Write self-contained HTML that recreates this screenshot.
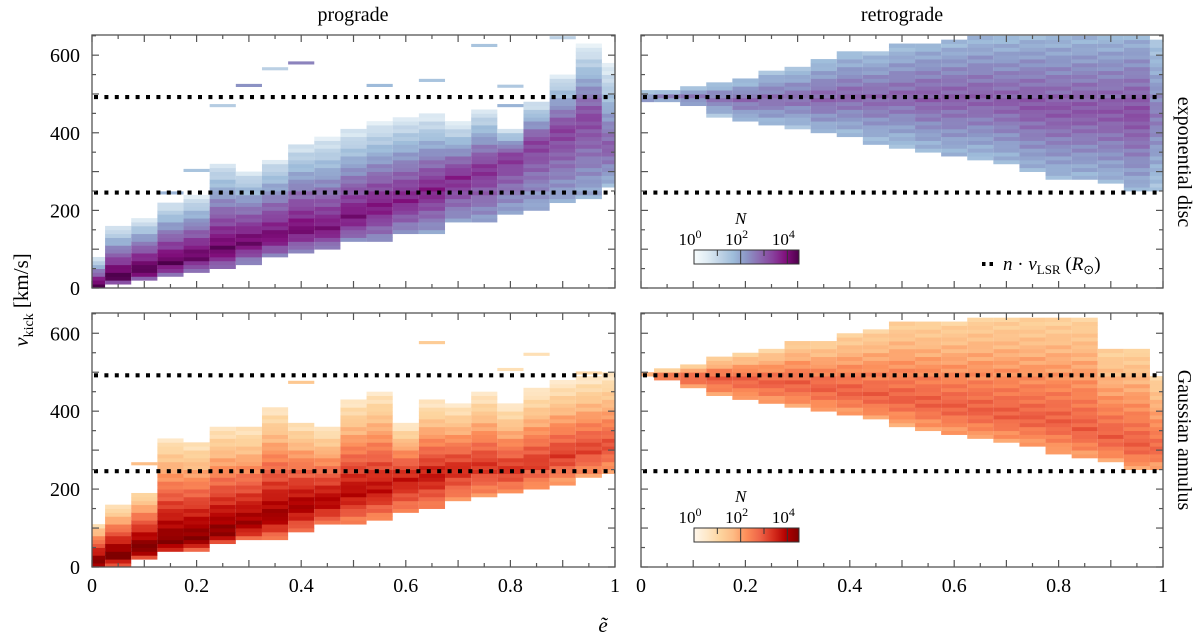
<!DOCTYPE html>
<html><head><meta charset="utf-8"><style>
html,body{margin:0;padding:0;background:#fff;}
svg{display:block;font-family:"Liberation Serif",serif;}
</style></head><body>
<svg id="fig" width="1200" height="642" viewBox="0 0 1200 642" xmlns="http://www.w3.org/2000/svg">
<defs>
<linearGradient id="gBuPu" x1="0" x2="1" y1="0" y2="0">
<stop offset="0" stop-color="#f7fcfd"/><stop offset="0.125" stop-color="#e0ecf4"/><stop offset="0.25" stop-color="#bfd3e6"/><stop offset="0.375" stop-color="#9ebcda"/><stop offset="0.5" stop-color="#8c96c6"/><stop offset="0.625" stop-color="#8c6bb1"/><stop offset="0.75" stop-color="#88419d"/><stop offset="0.875" stop-color="#810f7c"/><stop offset="1" stop-color="#4d004b"/>
</linearGradient>
<linearGradient id="gOrRd" x1="0" x2="1" y1="0" y2="0">
<stop offset="0" stop-color="#fff7ec"/><stop offset="0.125" stop-color="#fee8c8"/><stop offset="0.25" stop-color="#fdd49e"/><stop offset="0.375" stop-color="#fdbb84"/><stop offset="0.5" stop-color="#fc8d59"/><stop offset="0.625" stop-color="#ef6548"/><stop offset="0.75" stop-color="#d7301f"/><stop offset="0.875" stop-color="#b30000"/><stop offset="1" stop-color="#7f0000"/>
</linearGradient>
</defs>
<g id="cells"></g>
<g id="axes"></g>
<text x="353" y="21" font-size="20" text-anchor="middle">prograde</text>
<text x="902" y="21" font-size="20" text-anchor="middle">retrograde</text>
<text transform="translate(1178,162) rotate(90)" font-size="20" text-anchor="middle">exponential disc</text>
<text transform="translate(1178,440) rotate(90)" font-size="20" text-anchor="middle">Gaussian annulus</text>
<text transform="translate(28,300) rotate(-90)" font-size="21" text-anchor="middle"><tspan font-style="italic">v</tspan><tspan font-size="14" dy="5">kick</tspan><tspan dy="-5"> [km/s]</tspan></text>
<text x="603" y="632" font-size="21" font-style="italic" text-anchor="middle">ẽ</text>
<g>
<line x1="982" y1="264" x2="994" y2="264" stroke="#000" stroke-width="4" stroke-dasharray="3.5 4"/>
<text x="1003" y="270" font-size="19"><tspan font-style="italic">n</tspan> · <tspan font-style="italic">v</tspan><tspan font-size="13" dy="4">LSR</tspan><tspan dy="-4"> (</tspan><tspan font-style="italic">R</tspan><tspan font-size="13" dy="4">⊙</tspan><tspan dy="-4">)</tspan></text>
</g>
</svg>
<script>
// ---- data ----
const eCenters = [0,0.05,0.1,0.15,0.2,0.25,0.3,0.35,0.4,0.45,0.5,0.55,0.6,0.65,0.7,0.75,0.8,0.85,0.9,0.95,1];
// exponential disc, prograde
const tlLow  = [0,8,16,29,39,46,64,77,90,98,116,116,136,144,167,167,188,200,218,226,260];
const tlHigh = [75,155,175,218,235,324,303,334,373,386,407,425,440,445,425,463,414,484,553,625,579];
const tlPeak = [5,28,46,64,80,98,116,131,149,149,183,208,226,252,285,303,337,373,407,440,363];
const tlMax  = [4.6,4.6,4.5,4.4,4.3,4.3,4.2,4.1,4.1,4.0,4.0,3.9,3.8,3.8,3.7,3.6,3.5,3.4,3.4,3.3,3.0];
const tlSparse = [[0.15,245,1.8],[0.2,303,1.5],[0.25,470,1.3],[0.3,522,2.3],[0.35,565,1.2],[0.4,580,2.5],[0.55,522,1.7],[0.65,535,1.5],[0.75,625,1.5],[0.8,470,1.8],[0.8,520,1.4],[0.9,645,1.2]];
// exponential disc, retrograde
const trLow  = [480,480,467,445,428,417,415,396,390,374,365,351,336,334,317,297,282,278,268,248,248];
const trHigh = [505,510,517,527,537,557,565,585,606,606,625,634,638,651,651,651,651,651,651,651,638];
const trPeak = [490,492,492,488,485,488,490,490,495,490,495,490,490,490,480,470,460,460,455,450,440];
const trMax  = [2.6,2.6,2.7,2.7,2.8,2.8,2.8,2.9,2.9,2.9,2.9,3.0,3.0,3.0,3.0,3.1,3.1,3.1,3.1,3.2,2.6];
// gaussian annulus, prograde
const blLow  = [0,5,18,37,45,57,67,75,88,106,115,125,136,147,166,177,186,198,215,226,237];
const blHigh = [112,155,194,327,318,357,357,406,374,357,425,447,365,425,417,447,417,456,477,490,498];
const blPeak = [8,27,48,61,69,87,112,130,155,168,190,198,224,232,250,258,250,267,284,301,310];
const blMax  = [4.7,4.7,4.6,4.5,4.5,4.4,4.2,4.2,4.1,4.0,3.9,3.8,3.7,3.7,3.5,3.4,3.4,3.3,3.3,3.2,3.1];
const blSparse = [[0.1,265,1.6],[0.4,474,1.4],[0.65,576,1.3],[0.8,507,0.8],[0.85,546,0.8],[0.95,498,1.0]];
// gaussian annulus, retrograde
const brLow  = [486,477,460,438,430,417,408,396,387,376,365,348,337,327,316,307,288,278,267,250,250];
const brHigh = [498,507,517,537,547,556,578,578,597,607,627,627,627,638,638,638,638,638,556,556,486];
const brPeak = [492,490,488,485,480,475,470,460,450,440,430,420,410,400,390,380,370,350,330,310,300];
const brMax  = [2.8,2.8,2.9,2.9,2.9,2.9,2.9,2.9,2.9,2.9,2.9,2.9,2.9,2.9,2.9,2.9,2.9,2.9,2.9,2.9,2.8];
const vlsr = [246, 492];
const xTickLabels = ["0","0.2","0.4","0.6","0.8","1"];
const yTickLabels = ["0","200","400","600"];
const cbTickLabels = ["10","10","10"];
const cbTickExp = ["0","2","4"];

// ---- geometry ----
const NS = "http://www.w3.org/2000/svg";
const panels = [
 {name:"disc-prograde", x0:92, x1:615, y0:35, y1:288, low:tlLow, high:tlHigh, peak:tlPeak, max:tlMax, sparse:tlSparse, cmap:"bupu", left:true, bottom:false, up:0.85, dn:0.45},
 {name:"disc-retrograde", x0:641, x1:1163, y0:35, y1:288, low:trLow, high:trHigh, peak:trPeak, max:trMax, sparse:[], cmap:"bupu", left:false, bottom:false, cbar:true, up:0.45, dn:0.45},
 {name:"annulus-prograde", x0:92, x1:615, y0:313, y1:567, low:blLow, high:blHigh, peak:blPeak, max:blMax, sparse:blSparse, cmap:"orrd", left:true, bottom:true, up:0.85, dn:0.4},
 {name:"annulus-retrograde", x0:641, x1:1163, y0:313, y1:567, low:brLow, high:brHigh, peak:brPeak, max:brMax, sparse:[], cmap:"orrd", left:false, bottom:true, cbar:true, up:0.6, dn:0.35}
];
const VMAX = 652, LOGMAX = 4.5, BIN = 10;
const cmaps = {
 bupu:["#f7fcfd","#e0ecf4","#bfd3e6","#9ebcda","#8c96c6","#8c6bb1","#88419d","#810f7c","#4d004b"],
 orrd:["#fff7ec","#fee8c8","#fdd49e","#fdbb84","#fc8d59","#ef6548","#d7301f","#b30000","#7f0000"]
};
function hex(c){return [parseInt(c.slice(1,3),16),parseInt(c.slice(3,5),16),parseInt(c.slice(5,7),16)];}
function color(map, logN){
  let t = Math.max(0, Math.min(1, logN / LOGMAX));
  const s = cmaps[map]; const f = t*(s.length-1); const i = Math.min(s.length-2, Math.floor(f)); const u = f-i;
  const a = hex(s[i]), b = hex(s[i+1]);
  return "rgb(" + a.map((v,j)=>Math.round(v+(b[j]-v)*u)).join(",") + ")";
}
function xs(p,e){return p.x0 + e*(p.x1-p.x0);}
function ys(p,v){return p.y1 - v/VMAX*(p.y1-p.y0);}
function mk(tag, attrs, parent){const el=document.createElementNS(NS,tag); for(const k in attrs) el.setAttribute(k,attrs[k]); parent.appendChild(el); return el;}

const cellsG = document.getElementById("cells");
const axesG = document.getElementById("axes");
const halfW = (eCenters[1]-eCenters[0])/2;

panels.forEach(p=>{
  const g = mk("g",{},cellsG);
  
  
  eCenters.forEach((e,k)=>{
    const ea = Math.max(0, e-halfW), eb = Math.min(1, e+halfW);
    const L = p.low[k], H = p.high[k], P = p.peak[k], M = p.max[k];
    for(let b=0; b<VMAX; b+=BIN){
      const vc = b + BIN/2;
      if(vc < L || vc > H) continue;
      let r;
      if(vc >= P) r = (H-P) > 0 ? (vc-P)/(H-P) : 0; else r = (P-L) > 0 ? (P-vc)/(P-L) : 0;
      let I = M * (1 - (vc>=P ? p.up : p.dn) * Math.pow(r, 1.1));
      I += 0.18*Math.sin(b*0.37 + k*1.7);
      const y0 = ys(p, Math.min(b+BIN, H+BIN/2)), y1 = ys(p, Math.max(b, L-BIN/2));
      const rc = mk("rect",{x:xs(p,ea).toFixed(2), y:y0.toFixed(2), width:(xs(p,eb)-xs(p,ea)).toFixed(2), height:(y1-y0+0.4).toFixed(2), fill:color(p.cmap,I)}, g);
      
      
    }
  });
  p.sparse.forEach(s=>{
    const ea = Math.max(0, s[0]-halfW), eb = Math.min(1, s[0]+halfW);
    const rc = mk("rect",{x:xs(p,ea), y:ys(p,s[1]+4), width:xs(p,eb)-xs(p,ea), height:ys(p,s[1]-4)-ys(p,s[1]+4), fill:color(p.cmap,s[2])}, g);
    
    
  });
  vlsr.forEach((v,i)=>{
    const ln = mk("line",{x1:p.x0+2, x2:p.x1, y1:ys(p,v), y2:ys(p,v), stroke:"#000","stroke-width":4.2,"stroke-dasharray":"4 6.4"}, axesG);
    
    
  });
  const fr = mk("rect",{x:p.x0, y:p.y0, width:p.x1-p.x0, height:p.y1-p.y0, fill:"none", stroke:"#555","stroke-width":1.3}, axesG);
  
  
  for(let i=0;i<=20;i++){
    const e=i*0.05, x=xs(p,e), len = (i%2===0)?7:4;
    mk("line",{x1:x,x2:x,y1:p.y1,y2:p.y1-len,stroke:"#555","stroke-width":1.2},axesG);
    mk("line",{x1:x,x2:x,y1:p.y0,y2:p.y0+len,stroke:"#555","stroke-width":1.2},axesG);
  }
  for(let v=0; v<=650; v+=50){
    const y=ys(p,v), len=(v%100===0)?7:4;
    mk("line",{x1:p.x0,x2:p.x0+len,y1:y,y2:y,stroke:"#555","stroke-width":1.2},axesG);
    mk("line",{x1:p.x1,x2:p.x1-len,y1:y,y2:y,stroke:"#555","stroke-width":1.2},axesG);
  }
  if(p.left){
    yTickLabels.forEach(t=>{
      const tx = mk("text",{x:p.x0-12, y:ys(p,+t)+7, "font-size":20, "text-anchor":"end"}, axesG);
      tx.textContent = t;
      
      
    });
  }
  if(p.bottom){
    xTickLabels.forEach(t=>{
      const tx = mk("text",{x:xs(p,+t), y:p.y1+25, "font-size":20, "text-anchor":"middle"}, axesG);
      tx.textContent = t;
      
      
    });
  }
  if(p.cbar){
    const cx0=694, cx1=799, cy = p.bottom ? 528 : 250, ch = 14;
    const cg = mk("g",{},axesG);
    
    
    mk("rect",{x:cx0,y:cy,width:cx1-cx0,height:ch,fill:p.cmap==="bupu"?"url(#gBuPu)":"url(#gOrRd)",stroke:"#333","stroke-width":1},cg);
    const dec = (cx1-cx0)/LOGMAX;
    for(let d=1; d<=4; d++){
      mk("line",{x1:cx0+d*dec,x2:cx0+d*dec,y1:cy,y2:cy+(d%2===0?ch:6),stroke:"#333","stroke-width":1},cg);
    }
    cbTickLabels.forEach((t,i)=>{
      const d = +cbTickExp[i];
      const tx = mk("text",{x:cx0+d*dec-4, y:cy-5, "font-size":17, "text-anchor":"middle"}, cg);
      tx.textContent = t;
      const sup = mk("tspan",{dy:-7,"font-size":12}, tx);
      sup.textContent = cbTickExp[i];
      
      
    });
    const nl = mk("text",{x:cx0+2*dec, y:cy-26, "font-size":17, "font-style":"italic", "text-anchor":"middle"}, cg);
    nl.textContent = "N";
    
    
  }
});
</script>
</body></html>
